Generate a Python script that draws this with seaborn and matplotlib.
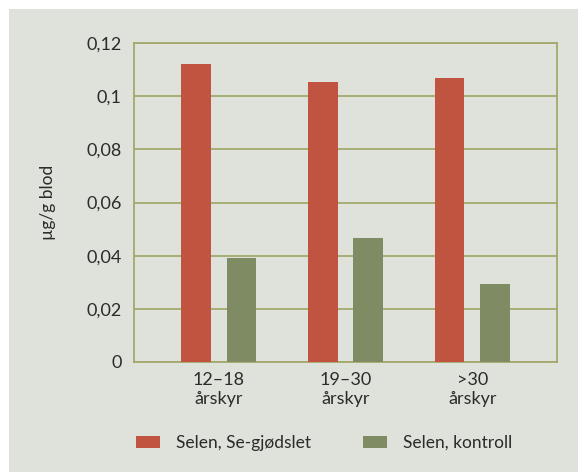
import matplotlib
matplotlib.use("Agg")
import matplotlib.pyplot as plt
import seaborn as sns
import pandas as pd
from matplotlib.patches import Rectangle

categories = ["12–18\nårskyr", "19–30\nårskyr", ">30\nårskyr"]
series_names = ["Selen, Se-gjødslet", "Selen, kontroll"]
se_fertilized = [0.112, 0.1055, 0.107]
control = [0.0393, 0.0467, 0.0292]
yticks = [0, 0.02, 0.04, 0.06, 0.08, 0.1, 0.12]
ytick_labels = ["0", "0,02", "0,04", "0,06", "0,08", "0,1", "0,12"]

df = pd.DataFrame({
    "category": categories * 2,
    "series": [series_names[0]] * 3 + [series_names[1]] * 3,
    "value": se_fertilized + control,
})

sns.set_theme(style="white")
plt.rcParams["font.family"] = ["Lato", "DejaVu Sans"]

bg = "#dfe2da"
grid_c = "#a4a86c"
text_c = "#2b2b2b"
colors = ["#c15440", "#7e8b63"]

fig = plt.figure(figsize=(5.78, 4.72), dpi=100)
fig.patch.set_facecolor("white")
fig.patches.append(Rectangle((9 / 578, 0), 1 - 9 / 578, 1 - 9 / 472,
                             transform=fig.transFigure, facecolor=bg,
                             edgecolor="none", zorder=-10))

ax = fig.add_axes([134 / 578, 110 / 472, (557 - 134) / 578, (362 - 43) / 472])
ax.set_facecolor("none")

sns.barplot(data=df, x="category", y="value", hue="series", palette=colors,
            width=0.716, gap=0.34, ax=ax, errorbar=None, saturation=1,
            linewidth=0, zorder=3)

ax.set_xlim(-0.67, 2.67)
ax.set_ylim(0, 0.12)
ax.set_yticks(yticks)
ax.set_yticklabels(ytick_labels, fontsize=13, color=text_c)
ax.tick_params(axis="y", length=0, pad=9)
ax.tick_params(axis="x", length=0, pad=7, labelsize=13, labelcolor=text_c)
for lbl in ax.get_xticklabels():
    lbl.set_linespacing(1.25)
ax.set_xlabel("")
ax.set_ylabel("µg/g blod", fontsize=12.5, color=text_c, labelpad=22)
ax.yaxis.grid(True, color=grid_c, linewidth=1.3, zorder=0)
ax.set_axisbelow(True)
for s in ax.spines.values():
    s.set_color(grid_c)
    s.set_linewidth(1.3)

handles, labels = ax.get_legend_handles_labels()
ax.get_legend().remove()
fig.legend(handles, labels, loc="center", bbox_to_anchor=(324 / 578, 29 / 472),
           ncol=2, frameon=False, fontsize=12.5, handlelength=1.4,
           handleheight=0.7, handletextpad=0.9, columnspacing=3.0,
           labelcolor=text_c)

fig.savefig("out.png", dpi=100)
